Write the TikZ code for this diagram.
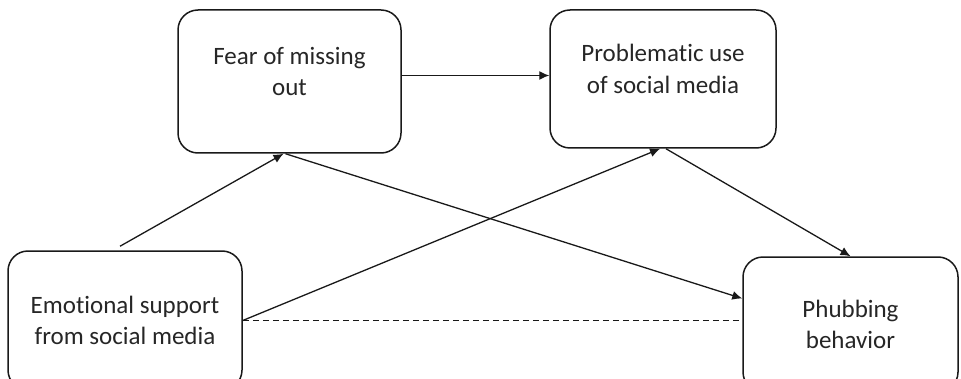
\documentclass[tikz,border=0pt]{standalone}
\usepackage{fontspec}
\setmainfont{Carlito}[Ligatures=NoCommon]
\usepackage{tikz}
\usetikzlibrary{arrows.meta, positioning}

\begin{document}
\begin{tikzpicture}[x=0.5pt, y=-0.5pt,
        box/.style={draw=black!90, line width=0.75pt, rounded corners=10pt, align=center, text=black!85, font=\fontsize{12.5}{15.75}\selectfont},
        link/.style={-{Latex[length=5pt, width=4.5pt]}, line width=0.65pt, draw=black!90}]
        \useasboundingbox (0,0) rectangle (961,379);
        \clip (0,0) rectangle (961,379);

        % Boxes
        \node[box, minimum width=111.5pt, minimum height=71.5pt, text depth=10pt] (fomo) at (289.5,81.5) {Fear of missing\\out};
        \node[box, minimum width=113pt, minimum height=69pt, text depth=10pt] (pusm) at (663,79) {Problematic use\\of social media};
        \node[box, minimum width=117pt, minimum height=69.5pt] (emo) at (125,320.5) {Emotional support\\from social media};
        \node[box, minimum width=107.5pt, minimum height=67.5pt] (phub) at (850.5,324.5) {Phubbing\\behavior};

        % Paths
        \draw[link] ([xshift=-2.5pt, yshift=2pt]emo.north) -- ([xshift=-3pt]fomo.south);
        \draw[link] ([xshift=-2pt]fomo.south) -- ([yshift=13pt]phub.west);
        \draw[link] ([yshift=3pt]fomo.east) -- ([yshift=3pt]fomo.east -| pusm.west);
        \draw[link] (emo.east) -- ([xshift=-1.5pt]pusm.south);
        \draw[link] ([xshift=1.5pt]pusm.south) -- (phub.north);

        % Direct effect
        \draw[dashed, dash pattern=on 3pt off 2pt, line width=0.65pt, draw=black!90] (emo.east) -- (emo.east -| phub.west);
    \end{tikzpicture}
\end{document}
